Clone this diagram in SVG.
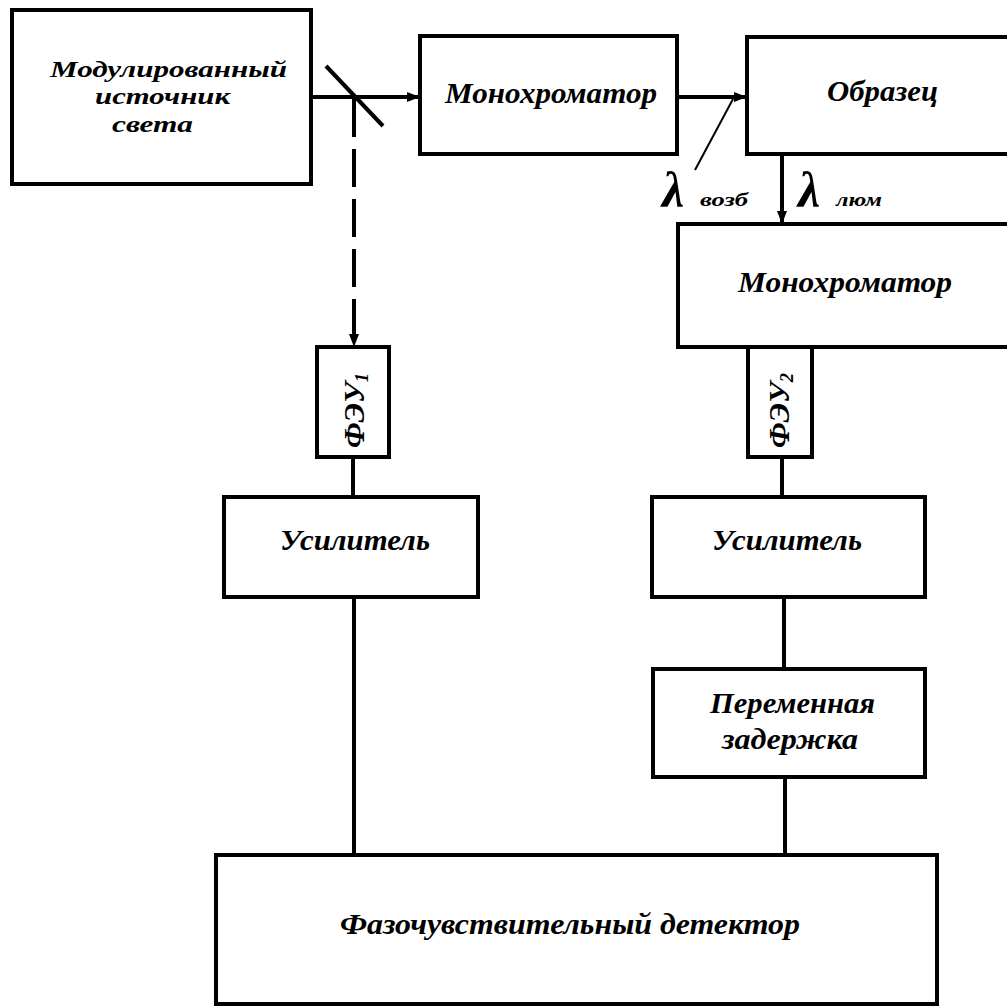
<svg xmlns="http://www.w3.org/2000/svg" width="1007" height="1007" viewBox="0 0 1007 1007">
<style>
.box{fill:#fff;stroke:#000;stroke-width:4}
.ln{fill:none;stroke:#000;stroke-width:4}
.thin{fill:none;stroke:#000;stroke-width:2}
.dash{fill:none;stroke:#000;stroke-width:4;stroke-dasharray:38 12}
.t{font-family:"Liberation Serif","Times New Roman",serif;font-style:italic;font-weight:bold;font-size:29px;fill:#000}
.ts{font-family:"Liberation Serif","Times New Roman",serif;font-style:italic;font-weight:bold;font-size:24px;fill:#000}
.lam{font-family:"Liberation Serif","Times New Roman",serif;font-style:italic;font-weight:bold;font-size:50px;fill:#000}
.sub{font-family:"Liberation Serif","Times New Roman",serif;font-style:italic;font-weight:bold;font-size:18px;fill:#000}
</style>
<defs>
<marker id="arr" markerUnits="userSpaceOnUse" markerWidth="14" markerHeight="10" refX="13" refY="5" orient="auto">
<path d="M0,0 L13,5 L0,10 z" fill="#000"/>
</marker>
</defs>
<rect width="1007" height="1007" fill="#fff"/>
<g id="connectors">
<line class="ln" x1="311" y1="97" x2="420" y2="97" marker-end="url(#arr)"/>
<line class="ln" x1="326" y1="66" x2="383" y2="126"/>
<line class="dash" x1="354" y1="99" x2="354" y2="347" marker-end="url(#arr)"/>
<line class="ln" x1="677" y1="97" x2="747" y2="97" marker-end="url(#arr)"/>
<line class="thin" x1="695" y1="170" x2="733" y2="99"/>
<line class="ln" x1="782" y1="154" x2="782" y2="224" marker-end="url(#arr)"/>
<line class="ln" x1="353" y1="457" x2="353" y2="497"/>
<line class="ln" x1="354" y1="597" x2="354" y2="855"/>
<line class="ln" x1="782" y1="457" x2="782" y2="497"/>
<line class="ln" x1="784" y1="597" x2="784" y2="669"/>
<line class="ln" x1="785" y1="777" x2="785" y2="855"/>
<text class="lam" x="662" y="207">λ</text>
<text class="sub" x="700" y="206" textLength="48" lengthAdjust="spacingAndGlyphs">возб</text>
<text class="lam" x="798" y="207">λ</text>
<text class="sub" x="836" y="206" textLength="46" lengthAdjust="spacingAndGlyphs">люм</text>
</g>
<g id="n-source">
<rect class="box" x="12" y="10" width="299" height="174"/>
<text class="ts" x="50" y="77" textLength="237" lengthAdjust="spacingAndGlyphs">Модулированный</text>
<text class="ts" x="95" y="104" textLength="135" lengthAdjust="spacingAndGlyphs">источник</text>
<text class="ts" x="112" y="132" textLength="81" lengthAdjust="spacingAndGlyphs">света</text>
</g>
<g id="n-mono1">
<rect class="box" x="420" y="36" width="257" height="118"/>
<text class="t" x="445" y="103" textLength="212" lengthAdjust="spacingAndGlyphs">Монохроматор</text>
</g>
<g id="n-sample">
<rect class="box" x="747" y="37" width="280" height="117"/>
<text class="t" x="827" y="101" textLength="111" lengthAdjust="spacingAndGlyphs">Образец</text>
</g>
<g id="n-mono2">
<rect class="box" x="678" y="224" width="350" height="123"/>
<text class="t" x="738" y="292" textLength="214" lengthAdjust="spacingAndGlyphs">Монохроматор</text>
</g>
<g id="n-pmt1">
<rect class="box" x="317" y="347" width="72" height="110"/>
<text class="t" transform="translate(364,448) rotate(-90)" textLength="75" lengthAdjust="spacingAndGlyphs">ФЭУ<tspan font-size="18" dy="4">1</tspan></text>
</g>
<g id="n-pmt2">
<rect class="box" x="748" y="347" width="64" height="110"/>
<text class="t" transform="translate(789,448) rotate(-90)" textLength="75" lengthAdjust="spacingAndGlyphs">ФЭУ<tspan font-size="18" dy="4">2</tspan></text>
</g>
<g id="n-amp1">
<rect class="box" x="224" y="497" width="254" height="100"/>
<text class="t" x="280" y="550" textLength="150" lengthAdjust="spacingAndGlyphs">Усилитель</text>
</g>
<g id="n-amp2">
<rect class="box" x="652" y="497" width="273" height="100"/>
<text class="t" x="712" y="550" textLength="150" lengthAdjust="spacingAndGlyphs">Усилитель</text>
</g>
<g id="n-delay">
<rect class="box" x="653" y="669" width="272" height="108"/>
<text class="t" x="710" y="713" textLength="165" lengthAdjust="spacingAndGlyphs">Переменная</text>
<text class="t" x="722" y="749" textLength="136" lengthAdjust="spacingAndGlyphs">задержка</text>
</g>
<g id="n-detector">
<rect class="box" x="216" y="855" width="721" height="149"/>
<text class="t" x="340" y="934" textLength="460" lengthAdjust="spacingAndGlyphs">Фазочувствительный детектор</text>
</g>
</svg>
